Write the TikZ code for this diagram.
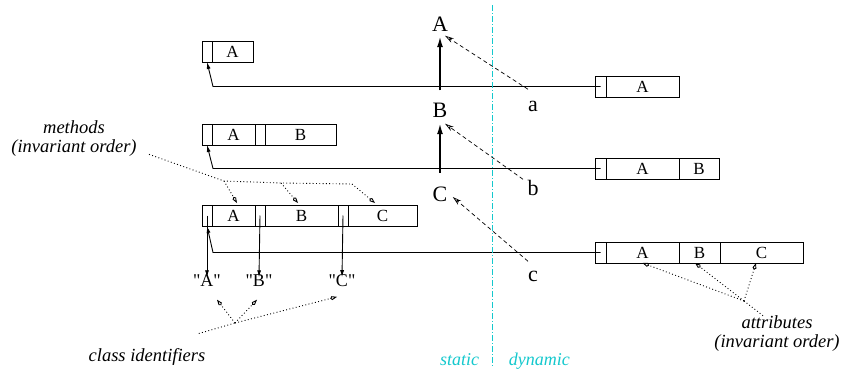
\documentclass[tikz,border=0pt]{standalone}
\usepackage{fontspec}
\setmainfont{Liberation Serif}
\usetikzlibrary{arrows.meta,positioning,calc}
\definecolor{LineCyan}{RGB}{20,200,205}
\newcommand\straightqq{\XeTeXglyph\XeTeXcharglyph"22\relax}

\begin{document}
\begin{tikzpicture}[x=1pt,y=-1pt,line width=0.9pt,>={Latex[length=7pt,width=4pt]},every node/.style={font=\fontsize{17}{19}\selectfont}]
\tikzset{slotbox/.style={draw,minimum width=10pt,minimum height=21pt,inner sep=0pt,outer sep=0pt},
  cellbox/.style={slotbox,minimum width=#1},
  note/.style={font=\fontsize{18.5}{19}\selectfont\itshape,align=center,inner sep=2pt},
  sidenote/.style={font=\fontsize{18}{20}\selectfont\itshape,text=LineCyan},
  idtext/.style={font=\fontsize{18}{20}\selectfont},
  bigletter/.style={font=\fontsize{22}{24}\selectfont,inner sep=2pt},
  dotline/.style={dash pattern=on 0.9pt off 2.4pt},
  dots/.style={dotline,-{Kite[open,length=7pt,width=4pt]}},
  dashedarrow/.style={dash pattern=on 4pt off 3pt,line width=0.7pt,-{Stealth[open,length=9pt,width=5pt]}},
  sepline/.style={LineCyan,line width=1pt,dash pattern=on 6pt off 2pt on 1pt off 2pt}}
\useasboundingbox (0,0) rectangle (841,372);
% method tables (static)
\node[slotbox] (m1s) at (207,51.5) {};
\node[cellbox=41pt,right=0pt of m1s] (m1a) {A};
\node[slotbox] (m2s) at (207,134.5) {};
\node[cellbox=43pt,right=0pt of m2s] (m2a) {A};
\node[slotbox,right=0pt of m2a] (m2t) {};
\node[cellbox=71pt,right=0pt of m2t] (m2b) {B};
\node[slotbox] (m3s) at (207,215.5) {};
\node[cellbox=43pt,right=0pt of m3s] (m3a) {A};
\node[slotbox,right=0pt of m3a] (m3t) {};
\node[cellbox=73pt,right=0pt of m3t] (m3b) {B};
\node[slotbox,right=0pt of m3b] (m3u) {};
\node[cellbox=69pt,right=0pt of m3u] (m3c) {C};
% objects (dynamic)
\node[slotbox,minimum width=11pt] (o1s) at (600.5,86.5) {};
\node[cellbox=73pt,right=0pt of o1s] (o1a) {A};
\node[slotbox,minimum width=11pt] (o2s) at (600.5,168.5) {};
\node[cellbox=73pt,right=0pt of o2s] (o2a) {A};
\node[cellbox=40pt,right=0pt of o2a] (o2b) {B};
\node[slotbox,minimum width=11pt] (o3s) at (600.5,252.5) {};
\node[cellbox=73pt,right=0pt of o3s] (o3a) {A};
\node[cellbox=41pt,right=0pt of o3a] (o3b) {B};
\node[cellbox=83pt,right=0pt of o3b] (o3c) {C};
\draw[->] (o1s.center)--($(m1s.south|-o1s.center)+(6,0)$)--(m1s.south);
\draw[->] (o2s.center)--($(m2s.south|-o2s.center)+(6,0)$)--(m2s.south);
\draw[->] (o3s.center)--($(m3s.south|-o3s.center)+(6,0)$)--(m3s.south);
% class identifiers
\node[idtext] (idA) at (207,281) {\straightqq A\straightqq};
\node[idtext] (idB) at (259,281) {\straightqq B\straightqq};
\node[idtext] (idC) at (342,281) {\straightqq C\straightqq};
\draw[->] (m3s.center)--([yshift=-6pt]idA.north);
\draw[->] (m3t.center)--([yshift=-6pt]idB.north);
\draw[->] (m3u.center)--([yshift=-6pt]idC.north);
% inheritance chain
\node[bigletter] (bigA) at (440,24) {A};
\node[bigletter] (bigB) at (440,110) {B};
\node[bigletter] (bigC) at (440,194) {C};
\node[bigletter] (sa) at (533,106) {a};
\node[bigletter] (sb) at (533,188) {b};
\node[bigletter] (sc) at (533,276) {c};
\draw[-{Latex[length=11pt,width=6pt]},line width=1.8pt,shorten <=10pt,shorten >=2.5pt] (bigB.north)--(bigA.south);
\draw[-{Latex[length=11pt,width=6pt]},line width=1.8pt,shorten <=11.5pt,shorten >=3.5pt] (bigC.north)--(bigB.south);
\draw[dashedarrow] ([shift={(-5,-9)}]sa.north)--([shift={(5,2)}]bigA.south);
\draw[dashedarrow] ([shift={(-10,1.5)}]sb.north)--([shift={(5,4)}]bigB.south);
\draw[dashedarrow] ([shift={(-5,-7)}]sc.north)--([shift={(3,3)}]bigC.east);
% static / dynamic
\coordinate (divtop) at (492,5);
\coordinate (divbot) at (492,366);
\draw[sepline] (divtop)--(divbot);
\node[sidenote,anchor=base east] (stat) at (483,365) {static};
\node[sidenote,anchor=base west] (dyn) at (505,365) {dynamic};
% notes
\node[note] (methnote) at (74,139) {methods\\(invariant order)};
\node[note,anchor=base] (idnote) at (147,361) {class identifiers};
\node[note] (attrnote) at (777,334) {attributes\\(invariant order)};
\coordinate (mjoin) at (224,181);
\coordinate (mjoinB) at (281,183);
\coordinate (mjoinC) at (352,184);
\draw[dotline] ([shift={(10,-5)}]methnote.south east)--(mjoin)--(mjoinB)--(mjoinC);
\draw[dots] (mjoin)--([shift={(3.5,-2)}]m3a.north);
\draw[dots] (mjoinB)--([shift={(-3.5,-2)}]m3b.north);
\draw[dots] (mjoinC)--([shift={(-7.5,-2)}]m3c.north);
\coordinate (idjoin) at (235,323);
\draw[dotline] ([shift={(-9,-12)}]idnote.north east)--(idjoin);
\draw[dots] (idjoin)--([shift={(10,9)}]idA.south);
\draw[dots] (idjoin)--([shift={(-2,9)}]idB.south);
\draw[dots] (idjoin)--([shift={(-5,6)}]idC.south);
\coordinate (ajoin) at (744,301);
\draw[dotline] ([shift={(-14,2)}]attrnote.north)--(ajoin);
\draw[dots] (ajoin)--(o3a.south);
\draw[dots] (ajoin)--([shift={(-4.5,0)}]o3b.south);
\draw[dots] (ajoin)--([shift={(-5.5,0)}]o3c.south);
\end{tikzpicture}
\end{document}
